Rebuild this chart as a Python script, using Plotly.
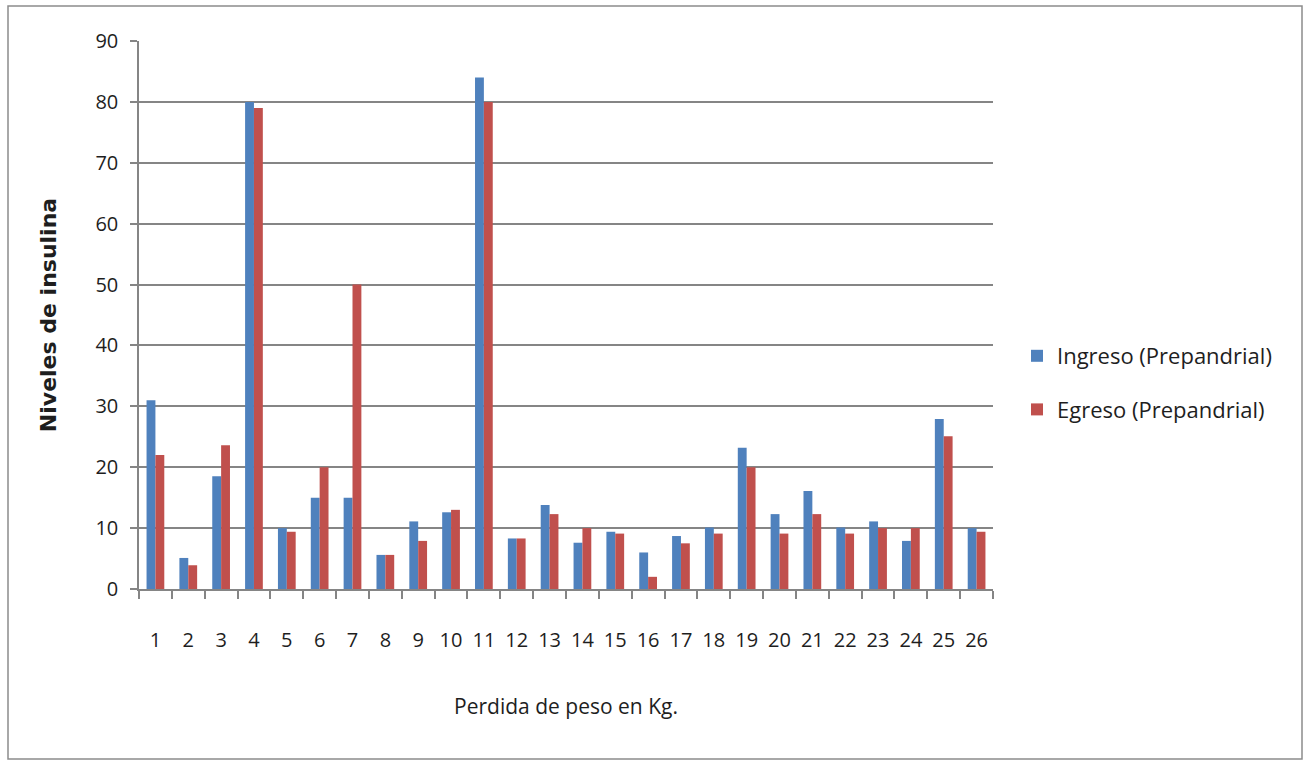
import plotly.graph_objects as go

# Weight-loss groups (kg) and insulin levels at intake / discharge
categorias = [str(i) for i in range(1, 27)]
ingreso = [31.0, 5.1, 18.5, 80.0, 10.0, 15.0, 15.0, 5.6, 11.1, 12.6, 84.0, 8.3, 13.8,
           7.6, 9.4, 6.0, 8.7, 10.1, 23.2, 12.3, 16.1, 10.1, 11.1, 7.9, 27.9, 10.0]
egreso = [22.0, 3.9, 23.6, 79.0, 9.4, 20.0, 50.0, 5.6, 7.9, 13.0, 80.0, 8.3, 12.3,
          10.0, 9.1, 2.0, 7.5, 9.1, 20.0, 9.1, 12.3, 9.1, 10.0, 10.0, 25.1, 9.4]
y_ticks = list(range(0, 91, 10))

W, H = 1310, 761
L, R, T, B = 139, 317, 41, 172
pw, ph = W - L - R, H - T - B

FONT = "'Open Sans', Lato, sans-serif"
TXT = "#1e1e1e"
GRID = "#858585"

fig = go.Figure()
fig.add_trace(go.Bar(x=categorias, y=ingreso, name="Ingreso (Prepandrial)",
                     marker=dict(color="#4f81bd", line=dict(width=0)), legendgroup="a"))
fig.add_trace(go.Bar(x=categorias, y=egreso, name="Egreso (Prepandrial)",
                     marker=dict(color="#c0504d", line=dict(width=0)), legendgroup="b"))


# helpers: pixel position -> paper units
def px_to_paper_x(px):
    return (px - L) / pw


def px_to_paper_y(py):
    return (H - B - py) / ph


# outer chart-area frame
fig.add_shape(type="rect", xref="paper", yref="paper",
              x0=px_to_paper_x(8), x1=px_to_paper_x(1302),
              y0=px_to_paper_y(759), y1=px_to_paper_y(6),
              line=dict(color="#8c8c8c", width=1.5), fillcolor="rgba(0,0,0,0)", layer="below")

fig.update_layout(
    width=W, height=H,
    margin=dict(l=L, r=R, t=T, b=B, autoexpand=False),
    paper_bgcolor="white", plot_bgcolor="white",
    barmode="group", bargap=0.46, bargroupgap=0,
    font=dict(family=FONT, size=20, color=TXT),
    showlegend=True,
    legend=dict(x=px_to_paper_x(1017), y=px_to_paper_y(383), xanchor="left", yanchor="middle",
                font=dict(family=FONT, size=22, color=TXT),
                tracegroupgap=22, itemwidth=30, bgcolor="rgba(0,0,0,0)"),
    xaxis=dict(type="category", showgrid=False, showline=True, linecolor=GRID, linewidth=1.5,
               ticks="outside", tickson="boundaries", ticklen=8, tickcolor=GRID, tickwidth=1.5,
               tickangle=0, ticklabelstandoff=32, tickfont=dict(size=20),
               title=dict(text="Perdida de peso en Kg.", font=dict(size=21), standoff=48),
               range=[-0.5, 25.5], fixedrange=True),
    yaxis=dict(range=[0, 90], tickvals=y_ticks, showgrid=True, gridcolor=GRID, gridwidth=1.5,
               showline=True, linecolor=GRID, linewidth=1.5, zeroline=False,
               ticks="outside", ticklen=7, tickcolor=GRID, tickwidth=1.5,
               ticklabelstandoff=8, tickfont=dict(size=20),
               title=dict(text="<b>Niveles de insulina</b>",
                          font=dict(family="'DejaVu Sans', sans-serif", size=22), standoff=33)),
)

fig.write_html("out.html")
